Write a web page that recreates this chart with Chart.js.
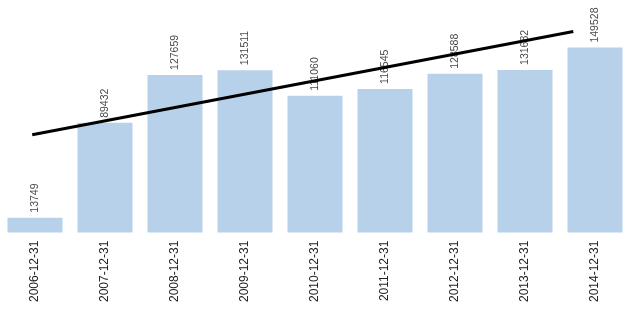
<!DOCTYPE html>
<html>
<head>
<meta charset="utf-8">
<script src="https://cdn.jsdelivr.net/npm/chart.js@4"></script>
<style>
html,body{margin:0;padding:0;background:#fff;}
#wrap{width:634px;height:316px;position:relative;}
</style>
</head>
<body>
<div id="wrap"><canvas id="c" width="634" height="316"></canvas></div>
<script>
const categories = ["2006-12-31","2007-12-31","2008-12-31","2009-12-31","2010-12-31","2011-12-31","2012-12-31","2013-12-31","2014-12-31"];
const values = [13749, 89432, 127659, 131511, 111060, 116545, 128588, 131682, 149528];
const trendX = [-0.04, 7.69];
const trendY = [80000, 162300];

const barLabels = {
  id: 'barLabels',
  afterDatasetDraw(chart, args) {
    if (args.index !== 0) return;
    const ctx = chart.ctx;
    const meta = args.meta;
    ctx.save();
    ctx.font = '10.5px "Liberation Sans", Arial, sans-serif';
    ctx.fillStyle = '#4a4a4a';
    ctx.textAlign = 'left';
    ctx.textBaseline = 'middle';
    meta.data.forEach((el, i) => {
      ctx.save();
      ctx.translate(el.x, el.y - 5);
      ctx.rotate(-Math.PI / 2);
      ctx.fillText(String(values[i]), 0, 0);
      ctx.restore();
    });
    ctx.restore();
  }
};

new Chart(document.getElementById('c'), {
  data: {
    labels: categories,
    datasets: [
      {
        type: 'bar',
        data: values,
        backgroundColor: 'rgb(184,209,234)',
        borderWidth: 0,
        grouped: false,
        categoryPercentage: 1,
        barPercentage: 0.786,
        order: 1,
        xAxisID: 'x',
        yAxisID: 'y'
      },
      {
        type: 'line',
        data: trendX.map((x, i) => ({x: x, y: trendY[i]})),
        borderColor: '#000',
        borderWidth: 3,
        pointRadius: 0,
        fill: false,
        order: 0,
        xAxisID: 'x2',
        yAxisID: 'y'
      }
    ]
  },
  options: {
    responsive: false,
    animation: false,
    layout: { padding: { left: 0, right: 4, top: 0, bottom: 14 } },
    plugins: { legend: { display: false }, tooltip: { enabled: false } },
    scales: {
      x: {
        type: 'category',
        offset: true,
        grid: { display: false },
        border: { display: false },
        ticks: {
          minRotation: 90, maxRotation: 90, padding: 0,
          color: '#222',
          font: { size: 12, family: '"Liberation Sans", Arial, sans-serif' }
        }
      },
      x2: {
        type: 'linear',
        display: false,
        min: -0.5,
        max: 8.5
      },
      y: {
        display: false,
        min: 1800,
        max: 187500
      }
    }
  },
  plugins: [barLabels]
});
</script>
</body>
</html>
